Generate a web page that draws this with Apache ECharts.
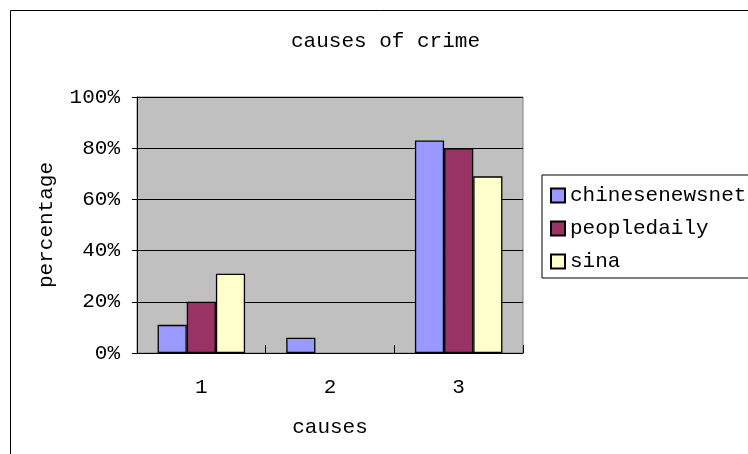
<!DOCTYPE html>
<html><head><meta charset="utf-8">
<script src="https://cdn.jsdelivr.net/npm/echarts@6/dist/echarts.min.js"></script>
<style>html,body{margin:0;padding:0;background:#fff}#c{width:748px;height:454px}</style>
</head><body><div id="c"></div>
<script>
const categories = ['1', '2', '3'];
const seriesNames = ['chinesenewsnet', 'peopledaily', 'sina'];
const chinesenewsnet = [0.11, 0.06, 0.83];
const peopledaily = [0.20, 0, 0.80];
const sina = [0.31, 0, 0.69];
const yTicks = [0, 0.2, 0.4, 0.6, 0.8, 1.0];

const FONT = 'Liberation Mono';
const colors = ['#9999FF', '#993366', '#FFFFCC'];
const values = [chinesenewsnet, peopledaily, sina];

const chart = echarts.init(document.getElementById('c'));
chart.setOption({
  animation: false,
  graphic: [{
    type: 'rect', left: 10, top: 10, z: -10,
    shape: { width: 760, height: 460 },
    style: { fill: '#fff', stroke: '#000', lineWidth: 1 }
  }],
  title: {
    text: 'causes of crime', left: 286, top: 26,
    textStyle: { fontFamily: FONT, fontSize: 21, fontWeight: 'normal', color: '#000' }
  },
  legend: {
    orient: 'vertical', left: 542, top: 175,
    data: seriesNames, icon: 'rect',
    itemWidth: 14, itemHeight: 14, itemGap: 12,
    padding: [10, 30, 6, 8],
    borderColor: '#000', borderWidth: 1,
    textStyle: { fontFamily: FONT, fontSize: 21, color: '#000' }
  },
  grid: {
    left: 137, top: 97, right: 225, bottom: 101,
    show: true, backgroundColor: '#C0C0C0', borderColor: '#808080', borderWidth: 1
  },
  xAxis: {
    type: 'category', data: categories,
    name: 'causes', nameLocation: 'middle', nameGap: 64,
    nameTextStyle: { fontFamily: FONT, fontSize: 21, color: '#000' },
    axisLine: { lineStyle: { color: '#000' } },
    axisTick: { show: true, inside: true, length: 8, lineStyle: { color: '#000' } },
    axisLabel: { margin: 24, fontFamily: FONT, fontSize: 21, color: '#000' }
  },
  yAxis: {
    type: 'value', min: 0, max: 1, interval: 0.2,
    name: 'percentage', nameLocation: 'middle', nameGap: 80,
    nameTextStyle: { fontFamily: FONT, fontSize: 21, color: '#000' },
    axisLine: { show: true, lineStyle: { color: '#000' } },
    axisTick: { show: true, length: 5, lineStyle: { color: '#000' } },
    splitLine: { show: true, lineStyle: { color: '#000' } },
    axisLabel: {
      margin: 17, fontFamily: FONT, fontSize: 21, color: '#000',
      formatter: v => Math.round(v * 100) + '%'
    }
  },
  series: seriesNames.map((n, i) => ({
    name: n, type: 'bar', data: values[i].map(v => (v === 0 ? null : v)),
    barGap: '0%', barCategoryGap: '32%',
    itemStyle: { color: colors[i], borderColor: '#000', borderWidth: 1.3 }
  }))
});
</script></body></html>
